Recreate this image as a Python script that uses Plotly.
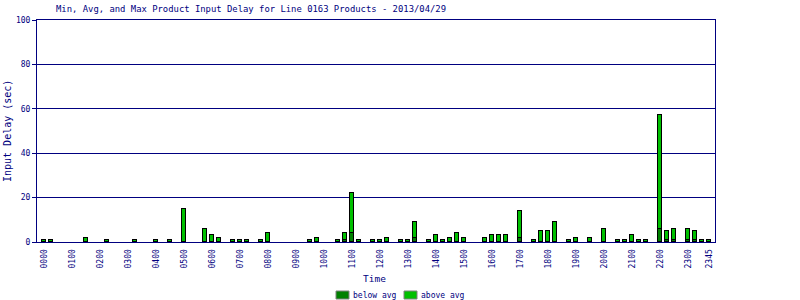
import plotly.graph_objects as go

# 15-minute time slots 0000..2345
times = [f"{h:02d}{m:02d}" for h in range(24) for m in (0, 15, 30, 45)]

# Max delay per slot (sec)
max_delay = [1, 1, 0, 0, 0, 0, 2, 0, 0, 1, 0, 0, 0, 1, 0, 0,
             1, 0, 1, 0, 15, 0, 0, 6, 3, 2, 0, 1, 1, 1, 0, 1,
             4, 0, 0, 0, 0, 0, 1, 2, 0, 0, 1, 4, 22, 1, 0, 1,
             1, 2, 0, 1, 1, 9, 0, 1, 3, 1, 2, 4, 2, 0, 0, 2,
             3, 3, 3, 0, 14, 0, 1, 5, 5, 9, 0, 1, 2, 0, 2, 0,
             6, 0, 1, 1, 3, 1, 1, 0, 57, 5, 6, 0, 6, 5, 1, 1]

# Below-average part per slot (sec)
below_avg = [0] * 96
for idx, v in {43: 1, 44: 4, 53: 2, 68: 2, 88: 6, 89: 1, 90: 1, 92: 1, 93: 1}.items():
    below_avg[idx] = v

above_avg = [m - b for m, b in zip(max_delay, below_avg)]

tick_idx = [i for i, t in enumerate(times) if t.endswith("00")] + [95]
tick_txt = [times[i] for i in tick_idx]

series_names = ["below avg", "above avg"]

navy = "#000080"
dark = "#008000"
light = "#00c000"
mono = "DejaVu Sans Mono"

L, R, T, B = 37, 715, 20, 242
W, H = R - L, B - T


def px(x):
    return (x - L) / W


def py(y):
    return (B - y) / H


xs = list(range(96))
fig = go.Figure()
fig.add_trace(go.Bar(x=xs, y=[v if v else None for v in below_avg], marker=dict(color=dark, line=dict(color="black", width=1)),
                     width=0.68, showlegend=False, name=series_names[0]))
fig.add_trace(go.Bar(x=xs, y=[v if v else None for v in above_avg], marker=dict(color=light, line=dict(color="black", width=1)),
                     width=0.68, showlegend=False, name=series_names[1]))

# legend (manual, below the axis title)
shapes = []
annotations = []
for i, (name, col) in enumerate(zip(series_names, [dark, light])):
    x0 = 336 + i * 68
    shapes.append(dict(type="rect", xref="paper", yref="paper", x0=px(x0), x1=px(x0 + 13),
                       y0=py(299), y1=py(291), fillcolor=col, line=dict(color="#808080", width=1)))
    annotations.append(dict(text=name, xref="paper", yref="paper", x=px(x0 + 15), y=py(295),
                            xanchor="left", yanchor="middle", showarrow=False,
                            font=dict(family=mono, size=8, color=navy)))

annotations += [
    dict(text="Min, Avg, and Max Product Input Delay for Line 0163 Products - 2013/04/29",
         xref="paper", yref="paper", x=px(54), y=py(9), xanchor="left", yanchor="middle",
         showarrow=False, font=dict(family=mono, size=8.9, color=navy)),
    dict(text="Time", xref="paper", yref="paper", x=px(374), y=py(278),
         xanchor="center", yanchor="middle", showarrow=False, font=dict(family=mono, size=9.5, color=navy)),
    dict(text="Input Delay (sec)", xref="paper", yref="paper", x=px(7), y=py(131),
         xanchor="center", yanchor="middle", textangle=-90, showarrow=False,
         font=dict(family=mono, size=10, color=navy)),
]

fig.update_layout(
    width=800, height=300,
    margin=dict(l=L, r=800 - R, t=T, b=300 - B, autoexpand=False),
    barmode="stack",
    bargap=0,
    showlegend=False,
    plot_bgcolor="white", paper_bgcolor="white",
    font=dict(family=mono, color=navy, size=8),
    xaxis=dict(range=[-1, 95.86], tickmode="array", tickvals=tick_idx, ticktext=tick_txt,
               tickangle=-90, showgrid=False, showline=True, linecolor=navy, linewidth=1, mirror=True,
               ticks="outside", ticklen=3, tickcolor="rgba(0,0,0,0)",
               tickfont=dict(family=mono, size=8, color=navy), zeroline=False, automargin=False),
    yaxis=dict(range=[0, 100], tickvals=[0, 20, 40, 60, 80, 100], showgrid=True, gridcolor=navy,
               gridwidth=1, showline=True, linecolor=navy, linewidth=1, mirror=True,
               ticks="outside", ticklen=4, tickcolor=navy, automargin=False,
               tickfont=dict(family=mono, size=8, color=navy), zeroline=False),
    shapes=shapes,
    annotations=annotations,
)

fig.write_html("out.html")
